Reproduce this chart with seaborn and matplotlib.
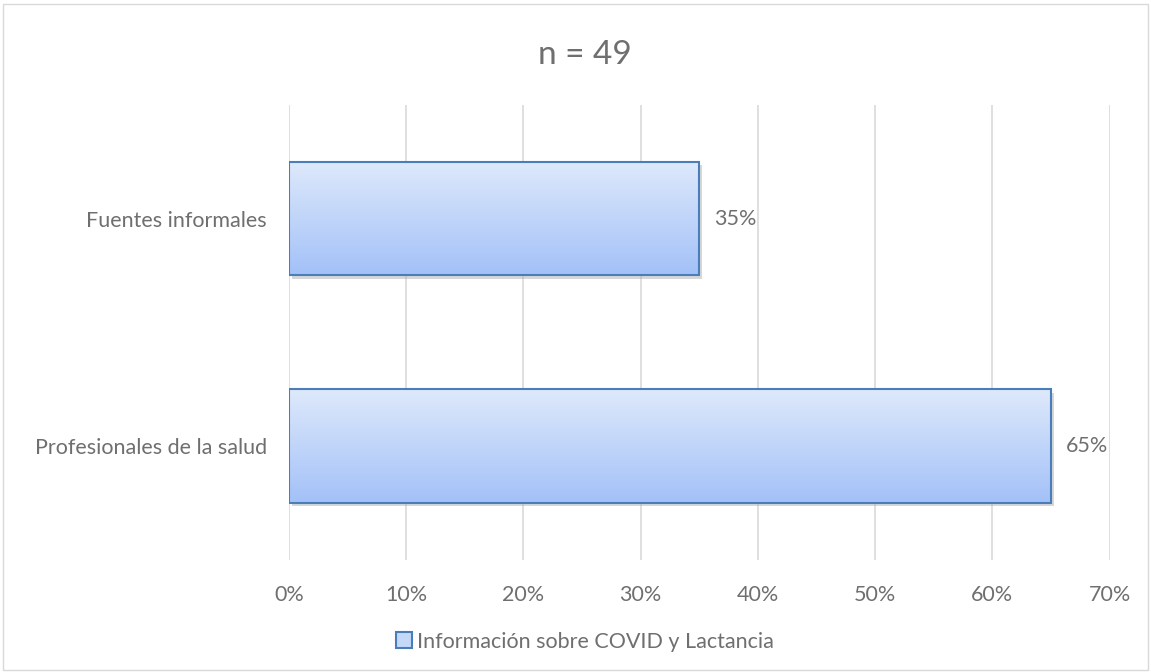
import numpy as np
import pandas as pd
import matplotlib
matplotlib.use("Agg")
import matplotlib.pyplot as plt
import seaborn as sns
from matplotlib.patches import Rectangle, Patch
from matplotlib.colors import LinearSegmentedColormap

categories = ["Fuentes informales", "Profesionales de la salud"]
values = [35, 65]
series_name = "Información sobre COVID y Lactancia"
title = "n = 49"
xticks = [0, 10, 20, 30, 40, 50, 60, 70]

sns.set_theme(style="white")
plt.rcParams['font.family'] = ['Lato', 'DejaVu Sans']
grey = "#6f6f6f"
fs = 15.5

df = pd.DataFrame({"cat": categories, "val": values})

fig = plt.figure(figsize=(11.51, 6.72), dpi=100)
ax = fig.add_axes([0.251, 0.167, 0.713, 0.677])

sns.barplot(data=df, x="val", y="cat", ax=ax, orient="h", width=0.5,
            color="#c5d8f8", edgecolor="#4a7ebb", linewidth=1.5, zorder=3)

cmap = LinearSegmentedColormap.from_list("g", ["#dee9fb", "#a3c1f8"])
grad = np.linspace(0, 1, 256).reshape(-1, 1)
for p in ax.patches:
    x0, y0 = p.get_x(), p.get_y()
    w, h = p.get_width(), p.get_height()
    sh = Rectangle((x0 + 0.25, y0 + 0.015), w, h, facecolor="#b0b0b0", alpha=0.5,
                   edgecolor="none", zorder=2)
    ax.add_patch(sh)
    im = ax.imshow(grad, extent=[x0, x0 + w, y0 + h, y0], aspect="auto",
                   cmap=cmap, zorder=3.5, origin="upper")
    im.set_clip_path(p)
    p.set_facecolor("none")
    p.set_zorder(4)
    ax.text(x0 + w + 1.3, y0 + h / 2, f"{values[int(round(y0 + h/2))]}%",
            va="center", ha="left", fontsize=fs, color=grey)

ax.set_xlim(0, 70)
ax.set_ylim(1.5, -0.5)
ax.set_xticks(xticks)
ax.set_xticklabels([f"{t}%" for t in xticks], fontsize=fs, color=grey)
ax.tick_params(axis="y", labelsize=fs, labelcolor=grey, length=0, pad=16)
ax.tick_params(axis="x", length=0, pad=18)
ax.set_xlabel("")
ax.set_ylabel("")
ax.grid(axis="x", color="#d9d9d9", linewidth=1.2, zorder=0)
ax.set_axisbelow(True)
for s in ax.spines.values():
    s.set_visible(False)

fig.text(0.508, 0.918, title, ha="center", va="center", fontsize=24, color=grey)

h = Patch(facecolor="#c5d8f8", edgecolor="#4a7ebb", linewidth=1.5, label=series_name)
fig.legend(handles=[h], loc="center", bbox_to_anchor=(0.508, 0.045), frameon=False,
           fontsize=fs, labelcolor=grey, handlelength=0.75, handleheight=0.75,
           handletextpad=0.25)

fig.add_artist(Rectangle((0.003, 0.003), 0.994, 0.991, transform=fig.transFigure,
                         fill=False, edgecolor="#d9d9d9", linewidth=1))

fig.savefig("out.png", dpi=100)
